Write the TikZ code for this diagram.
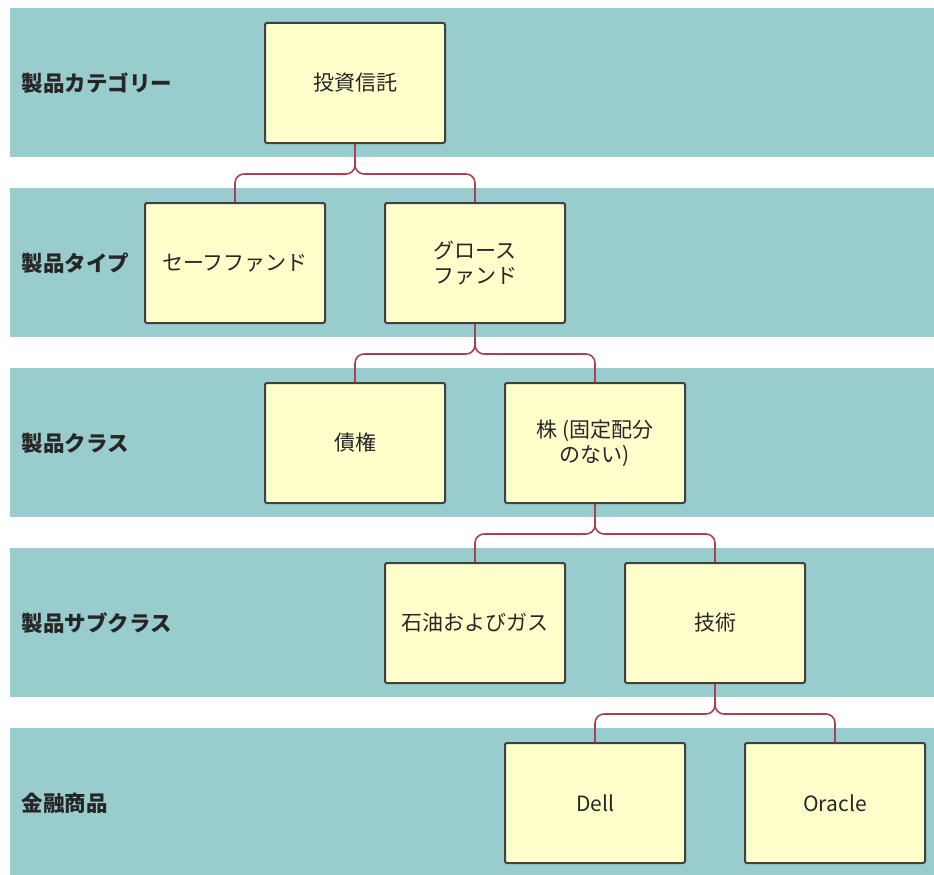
\documentclass[tikz,border=0pt]{standalone}
\usepackage{fontspec}
\setmainfont{Noto Sans CJK JP}
\definecolor{bandteal}{HTML}{99CCCC}
\definecolor{itemfill}{HTML}{FFFFCC}
\definecolor{linkred}{HTML}{A8424F}
\tikzset{
    item/.style={draw=black!75, fill=itemfill, line width=2pt, rounded corners=2pt,
        minimum width=180pt, minimum height=120pt, align=center, text=black!85,
        font=\fontsize{21}{25}\selectfont},
    levelname/.style={anchor=west, text=black!85, font=\fontsize{21.5}{25}\selectfont\bfseries},
    link/.style={draw=linkred, line width=1.6pt, rounded corners=9pt}
}
\begin{document}
\begin{tikzpicture}[x=1pt,y=-1pt]
    \useasboundingbox (0,0) rectangle (934,875);
    % bands
    \foreach \y in {8,188,368,548,728}
    {
        \fill[bandteal] (10,\y) rectangle (934,\y+149);
    }
    % level names
    \node[levelname] (lvcat) at (18,83) {製品カテゴリー};
    \node[levelname] (lvtype) at (18,263) {製品タイプ};
    \node[levelname] (lvclass) at (18,443) {製品クラス};
    \node[levelname] (lvsub) at (18,623) {製品サブクラス};
    \node[levelname] (lvfin) at (18,803) {金融商品};
    % items
    \node[item] (trust) at (355,83) {投資信託};
    \node[item] (safe) at (235,263) {セーフファンド};
    \node[item] (growth) at (475,263) {グロース\\ファンド};
    \node[item] (bond) at (355,443) {債権};
    \node[item] (stock) at (595,443) {株 (固定配分\\のない)};
    \node[item] (oil) at (475,623) {石油およびガス};
    \node[item] (tech) at (715,623) {技術};
    \node[item] (dell) at (595,803) {Dell};
    \node[item] (oracle) at (835,803) {Oracle};
    % links
    \foreach \p/\c in {trust/safe,trust/growth,growth/bond,growth/stock,stock/oil,stock/tech,tech/dell,tech/oracle}
    {
        \draw[link] (\p.south) -- ++(0,30) -| (\c.north);
    }
\end{tikzpicture}
\end{document}
